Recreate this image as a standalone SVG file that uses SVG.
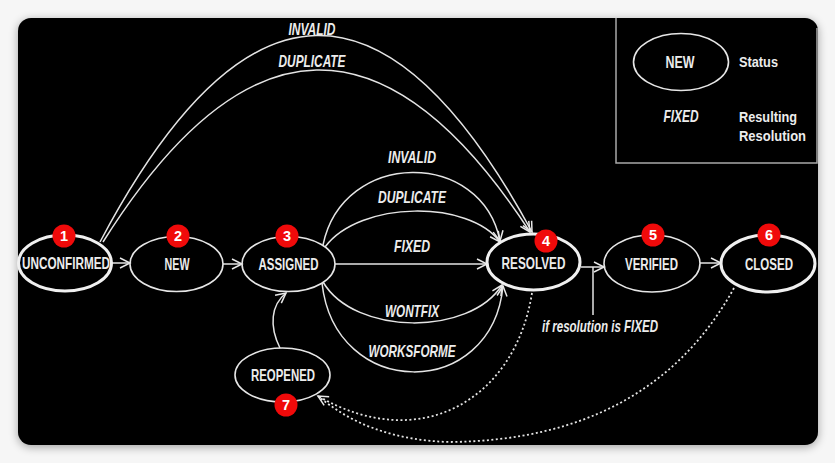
<svg xmlns="http://www.w3.org/2000/svg" width="835" height="463" viewBox="0 0 835 463">
<defs>
<filter id="sh" x="-10%" y="-10%" width="120%" height="120%"><feGaussianBlur stdDeviation="5"/></filter>
<marker id="ah" markerUnits="userSpaceOnUse" markerWidth="14" markerHeight="14" refX="11" refY="6" orient="auto" viewBox="0 0 14 12">
<path d="M1,1 L11,6 L1,11" fill="none" stroke="#e8e8e8" stroke-width="1.5"/>
</marker>
<style>
.n{fill:none;stroke:#e6e6e6;stroke-width:1.6}
.nt{fill:none;stroke:#f0f0f0;stroke-width:3}
.lb{font-family:"Liberation Sans",Arial,sans-serif;font-weight:bold;font-size:16.5px;fill:#ececec;text-anchor:middle}
.el{font-family:"Liberation Sans",Arial,sans-serif;font-weight:bold;font-style:italic;font-size:16.5px;fill:#ececec;text-anchor:middle}
.lg{font-family:"Liberation Sans",Arial,sans-serif;font-weight:bold;font-size:15px;fill:#ececec}
.bd{fill:#f00a0a}
.bn{font-family:"Liberation Sans",Arial,sans-serif;font-weight:bold;font-size:14.5px;fill:#fff;text-anchor:middle}
.e{fill:none;stroke:#e4e4e4;stroke-width:1.5}
.d{fill:none;stroke:#e4e4e4;stroke-width:1.8;stroke-dasharray:2 2.5}
</style>
</defs>
<rect x="0" y="0" width="835" height="463" fill="#f6f6f6"/>
<rect x="18" y="20" width="800" height="427" rx="13" fill="#000" opacity="0.35" filter="url(#sh)"/>
<rect x="18" y="18" width="800" height="427" rx="13" fill="#000"/>

<g id="legend">
<path d="M616 18 V163 H817 V28" fill="none" stroke="#a8a8a8" stroke-width="1.5"/>
<ellipse class="n" cx="681" cy="62" rx="47.5" ry="28.5"/>
<text class="lb" x="680" y="67.5" font-size="15" textLength="29" lengthAdjust="spacingAndGlyphs">NEW</text>
<text class="lg" x="739" y="67" textLength="39" lengthAdjust="spacingAndGlyphs">Status</text>
<text class="el" x="681" y="122" font-size="15" textLength="35" lengthAdjust="spacingAndGlyphs">FIXED</text>
<text class="lg" x="739" y="122" textLength="58" lengthAdjust="spacingAndGlyphs">Resulting</text>
<text class="lg" x="739" y="141" textLength="67" lengthAdjust="spacingAndGlyphs">Resolution</text>
</g>

<g id="connectors">
<line class="e" x1="112" y1="263" x2="130" y2="263" marker-end="url(#ah)"/>
<line class="e" x1="223" y1="264" x2="242" y2="264" marker-end="url(#ah)"/>
<line class="e" x1="335" y1="264" x2="487" y2="264" marker-end="url(#ah)"/>
<line class="e" x1="581" y1="267" x2="604" y2="267" marker-end="url(#ah)"/>
<line class="e" x1="593" y1="267" x2="593" y2="315"/>
<line class="e" x1="700" y1="263" x2="721" y2="263" marker-end="url(#ah)"/>
<path class="e" d="M100 242 Q316 -166 532 232" marker-end="url(#ah)"/>
<path class="e" d="M103 242 Q316 -97 530 232" marker-end="url(#ah)"/>
<path class="e" d="M323 245 C343 149 482 149 500 241" marker-end="url(#ah)"/>
<path class="e" d="M325 247 C360 200 470 200 500 242" marker-end="url(#ah)"/>
<path class="e" d="M323 282 C355 336 470 336 502 285" marker-end="url(#ah)"/>
<path class="e" d="M322 283 C335 401 492 401 503 286" marker-end="url(#ah)"/>
<path class="e" d="M280 348 C269 326 271 305 286 293" marker-end="url(#ah)"/>
<path class="d" d="M532 293 C515 400 420 455 318 396" marker-end="url(#ah)"/>
<path class="d" d="M734 288 Q650 440 450 442 Q370 440 318 396"/>
<text class="el" x="312" y="35" textLength="47" lengthAdjust="spacingAndGlyphs">INVALID</text>
<text class="el" x="312" y="67" textLength="67" lengthAdjust="spacingAndGlyphs">DUPLICATE</text>
<text class="el" x="412" y="163" textLength="48" lengthAdjust="spacingAndGlyphs">INVALID</text>
<text class="el" x="412" y="203" textLength="68" lengthAdjust="spacingAndGlyphs">DUPLICATE</text>
<text class="el" x="412" y="252" textLength="36" lengthAdjust="spacingAndGlyphs">FIXED</text>
<text class="el" x="412" y="317" textLength="54" lengthAdjust="spacingAndGlyphs">WONTFIX</text>
<text class="el" x="412" y="356.5" textLength="87" lengthAdjust="spacingAndGlyphs">WORKSFORME</text>
<text class="el" x="600" y="332" font-size="15" textLength="116" lengthAdjust="spacingAndGlyphs">if resolution is FIXED</text>
</g>

<g id="unconfirmed">
<ellipse class="nt" cx="65" cy="263" rx="46.5" ry="28"/>
<text class="lb" x="66" y="269" textLength="88" lengthAdjust="spacingAndGlyphs">UNCONFIRMED</text>
<circle class="bd" cx="64" cy="236" r="11.5"/><text class="bn" x="64" y="241">1</text>
</g>
<g id="new">
<ellipse class="n" cx="176.5" cy="264" rx="46.5" ry="27.5"/>
<text class="lb" x="177" y="270" textLength="25" lengthAdjust="spacingAndGlyphs">NEW</text>
<circle class="bd" cx="178" cy="236" r="11.5"/><text class="bn" x="178" y="241">2</text>
</g>
<g id="assigned">
<ellipse class="n" cx="288.5" cy="264" rx="46.5" ry="27.5"/>
<text class="lb" x="288.5" y="270" textLength="60" lengthAdjust="spacingAndGlyphs">ASSIGNED</text>
<circle class="bd" cx="287" cy="236" r="11.5"/><text class="bn" x="287" y="241">3</text>
</g>
<g id="resolved">
<ellipse class="nt" cx="533.5" cy="262" rx="46.5" ry="28"/>
<text class="lb" x="533.5" y="268.5" textLength="64" lengthAdjust="spacingAndGlyphs">RESOLVED</text>
<circle class="bd" cx="546" cy="241" r="11.5"/><text class="bn" x="546" y="246">4</text>
</g>
<g id="verified">
<ellipse class="n" cx="652" cy="263.5" rx="48" ry="28.5"/>
<text class="lb" x="651.5" y="269.5" textLength="53" lengthAdjust="spacingAndGlyphs">VERIFIED</text>
<circle class="bd" cx="653" cy="235" r="11.5"/><text class="bn" x="653" y="240">5</text>
</g>
<g id="closed">
<ellipse class="nt" cx="768" cy="263.5" rx="47" ry="28.5"/>
<text class="lb" x="769" y="269.5" textLength="48" lengthAdjust="spacingAndGlyphs">CLOSED</text>
<circle class="bd" cx="769" cy="235" r="11.5"/><text class="bn" x="769" y="240">6</text>
</g>
<g id="reopened">
<ellipse class="n" cx="282.5" cy="375" rx="47.5" ry="27"/>
<text class="lb" x="283" y="381" textLength="64" lengthAdjust="spacingAndGlyphs">REOPENED</text>
<circle class="bd" cx="286" cy="405" r="11.5"/><text class="bn" x="286" y="410">7</text>
</g>
</svg>
